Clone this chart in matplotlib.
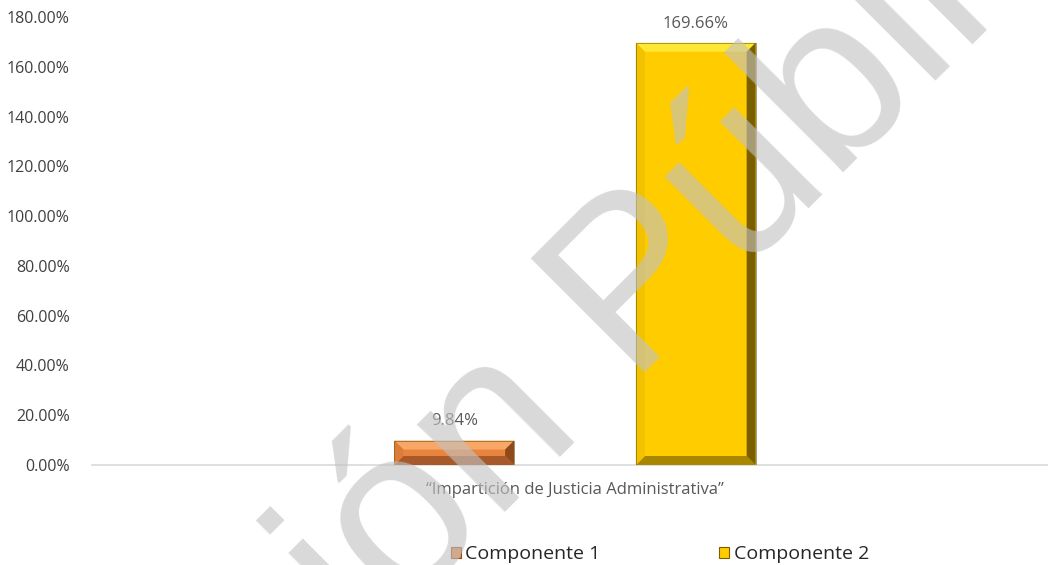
import matplotlib
matplotlib.use("Agg")
import matplotlib.pyplot as plt
from matplotlib.patches import Polygon, Patch

# data
categories = ["“Impartición de Justicia Administrativa”"]
series_names = ["Componente 1", "Componente 2"]
series_values = [9.84, 169.66]
y_ticks = [0, 20, 40, 60, 80, 100, 120, 140, 160, 180]

# styles: face, top, left, right, bottom
bar_styles = [
    ("#E8843E", "#F7A866", "#DE7B38", "#8E4A1A", "#A8592A"),
    ("#FFCC00", "#FFE833", "#F2C200", "#7A5F00", "#A88600"),
]

plt.rcParams['font.family'] = ['Open Sans', 'DejaVu Sans']

fig = plt.figure(figsize=(10.48, 5.65), dpi=100)
ax = fig.add_axes([92 / 1048, 100 / 565, 1 - 92 / 1048, 448 / 565])

ax.set_xlim(-0.5, -0.5 + 956 / 966)
ax.set_ylim(0, 180)

bar_w = 0.124
offsets = [-0.125, 0.125]
bx = 9 / 966
by_full = 9 * 180 / 448


def bevel_bar(x_center, h, style):
    face, top, left, right, bottom = style
    x0 = x_center - bar_w / 2
    x1 = x_center + bar_w / 2
    by = min(by_full, h / 2.6)
    ax.bar(x_center, h, width=bar_w, color=face, zorder=2)
    polys = [
        ([(x0, h), (x1, h), (x1 - bx, h - by), (x0 + bx, h - by)], top),
        ([(x0, 0), (x1, 0), (x1 - bx, by), (x0 + bx, by)], bottom),
        ([(x0, 0), (x0, h), (x0 + bx, h - by), (x0 + bx, by)], left),
        ([(x1, 0), (x1, h), (x1 - bx, h - by), (x1 - bx, by)], right),
    ]
    for pts, c in polys:
        ax.add_patch(Polygon(pts, closed=True, facecolor=c, edgecolor='none', zorder=3))
    ax.add_patch(Polygon([(x0, 0), (x0, h), (x1, h), (x1, 0)], closed=True,
                         facecolor='none', edgecolor='#6a5510', linewidth=0.4, zorder=4))


for off, val, st in zip(offsets, series_values, bar_styles):
    bevel_bar(off, val, st)
    ax.annotate(f"{val:.2f}%", (off, val), xytext=(0, 8), textcoords='offset points',
                ha='center', va='bottom', fontsize=12, color='#595959', zorder=5)

ax.set_yticks(y_ticks)
ax.set_yticklabels([f"{t:.2f}%" for t in y_ticks], fontsize=11.5, color='#404040')
ax.set_xticks([0])
ax.set_xticklabels(categories, fontsize=12, color='#595959')
ax.tick_params(axis='both', length=0)
ax.tick_params(axis='x', pad=12)
ax.tick_params(axis='y', pad=16)
for s in ['top', 'right', 'left']:
    ax.spines[s].set_visible(False)
ax.spines['bottom'].set_color('#D9D9D9')
ax.spines['bottom'].set_linewidth(1.2)

handles = [Patch(facecolor=st[0], edgecolor=st[3], linewidth=0.8) for st in bar_styles]
fig.legend(handles, series_names, loc='center', bbox_to_anchor=(660 / 1048, 11 / 565),
           ncol=2, frameon=False, fontsize=14, handlelength=0.5, handleheight=0.5,
           handletextpad=0.25, columnspacing=6.1, labelcolor='#262626',
           borderpad=0, borderaxespad=0)

# watermark
fig.text(604 / 1048, 1 - 413 / 565, "Versión Pública", fontsize=168,
         family='Liberation Sans', color=(194 / 255, 194 / 255, 194 / 255), alpha=0.62,
         rotation=45, ha='center', va='baseline', rotation_mode='anchor', zorder=10)

fig.savefig("out.png", dpi=100)
